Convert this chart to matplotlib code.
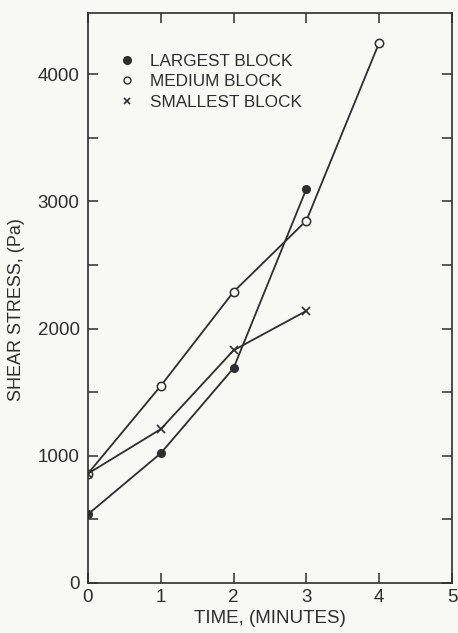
import matplotlib
matplotlib.use("Agg")
import matplotlib.pyplot as plt
from matplotlib.lines import Line2D

plt.rcParams['font.family'] = ['Liberation Sans', 'DejaVu Sans']

INK = '#2e2e2e'
PAPER = '#f8f8f4'

# Shear stress (Pa) against time (minutes) for each block size
time_largest = [0, 1, 2, 3]
stress_largest = [540, 1020, 1690, 3100]

time_medium = [0, 1, 2, 3, 4]
stress_medium = [860, 1550, 2290, 2850, 4250]

time_smallest = [0, 1, 2, 3]
stress_smallest = [860, 1210, 1830, 2140]

legend_labels = ['LARGEST BLOCK', 'MEDIUM BLOCK', 'SMALLEST BLOCK']

fig = plt.figure(figsize=(4.58, 6.33), dpi=100)
fig.set_facecolor(PAPER)
ax = fig.add_axes([0.192, 0.079, 0.795, 0.900])
ax.set_facecolor(PAPER)

line_kw = dict(color=INK, linewidth=1.3)
ax.plot(time_largest, stress_largest, marker='o', markersize=5.5,
        markerfacecolor=INK, markeredgecolor=INK, **line_kw)
ax.plot(time_medium, stress_medium, marker='o', markersize=6,
        markerfacecolor=PAPER, markeredgecolor=INK, markeredgewidth=1.1, **line_kw)
ax.plot(time_smallest, stress_smallest, marker='x', markersize=6,
        markeredgecolor=INK, markeredgewidth=1.2, **line_kw)

ax.set_xlim(0, 5)
ax.set_ylim(0, 4480)
ax.set_xticks(range(0, 6))
ax.set_yticks(range(0, 4001, 1000))
ax.set_yticks(range(500, 4500, 1000), minor=True)

ax.tick_params(which='both', direction='in', top=True, right=True,
               colors=INK, labelcolor=INK, labelsize=13.5, width=1.1)
ax.tick_params(which='major', length=7)
ax.tick_params(which='minor', length=7)
ax.tick_params(axis='x', pad=4)
ax.tick_params(axis='y', pad=6)
for spine in ax.spines.values():
    spine.set_color(INK)
    spine.set_linewidth(1.2)

ax.set_xlabel('TIME, (MINUTES)', fontsize=13.5, color=INK, labelpad=3)
ax.set_ylabel('SHEAR STRESS, (Pa)', fontsize=13, color=INK)
ax.yaxis.set_label_coords(-0.172, 0.48)

handles = [
    Line2D([], [], linestyle='none', marker='o', markersize=5.5,
           markerfacecolor=INK, markeredgecolor=INK),
    Line2D([], [], linestyle='none', marker='o', markersize=5,
           markerfacecolor=PAPER, markeredgecolor=INK),
    Line2D([], [], linestyle='none', marker='x', markersize=5,
           markeredgecolor=INK, markeredgewidth=1.2),
]
legend = ax.legend(handles, legend_labels, loc='upper left',
                   bbox_to_anchor=(0.065, 0.94), frameon=False,
                   fontsize=12.3, handlelength=1.0, handletextpad=0.85,
                   labelspacing=0.3, borderaxespad=0)
for text in legend.get_texts():
    text.set_color(INK)

fig.savefig('out.png', dpi=100, facecolor=PAPER)
